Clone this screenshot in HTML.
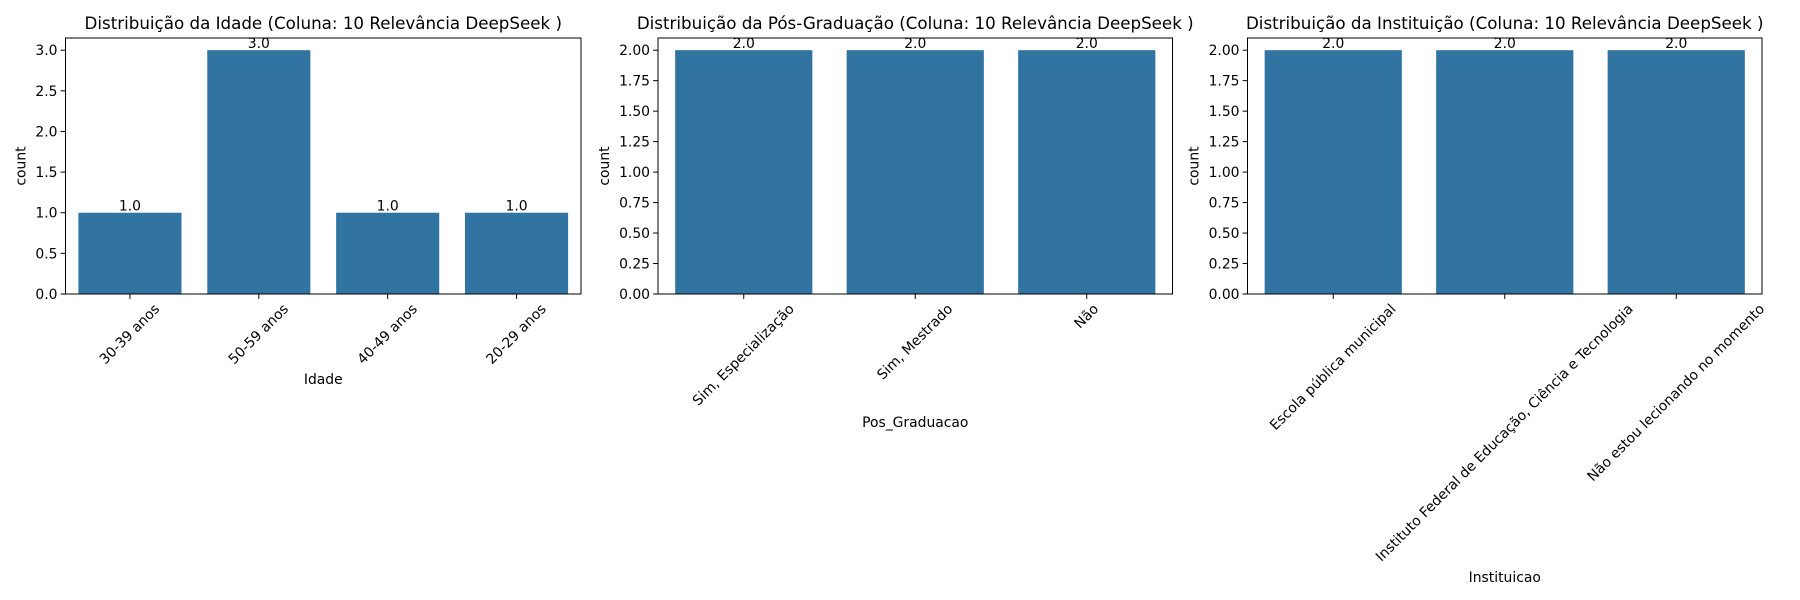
<!DOCTYPE html>
<html><head><meta charset="utf-8">
<style>
body{margin:0;background:#fff;}
svg{display:block;font-family:"DejaVu Sans","Liberation Sans",sans-serif;}
</style></head>
<body>
<svg id="fig" width="1800" height="600" viewBox="0 0 1800 600" xmlns="http://www.w3.org/2000/svg"></svg>
<script>
const idadeCategories = ["30-39 anos","50-59 anos","40-49 anos","20-29 anos"];
const idadeCounts = [1,3,1,1];
const idadeTicks = [0,0.5,1,1.5,2,2.5,3];
const posCategories = ["Sim, Especialização","Sim, Mestrado","Não"];
const posCounts = [2,2,2];
const posTicks = [0,0.25,0.5,0.75,1,1.25,1.5,1.75,2];
const instCategories = ["Escola pública municipal","Instituto Federal de Educação, Ciência e Tecnologia","Não estou lecionando no momento"];
const instCounts = [2,2,2];
const instTicks = [0,0.25,0.5,0.75,1,1.25,1.5,1.75,2];

const NS="http://www.w3.org/2000/svg";
const svg=document.getElementById('fig');
function mk(tag,attrs,parent){const e=document.createElementNS(NS,tag);for(const k in attrs)e.setAttribute(k,attrs[k]);(parent||svg).appendChild(e);return e;}

function panel(cfg){
  const g=mk('g',{});
  
  
  const L=cfg.left,R=cfg.right,T=38,B=294;
  const ymax=Math.max(...cfg.ticks)*1.05;
  const n=cfg.cats.length;
  const xs=i=>L+(i+0.5)*(R-L)/n;
  const ys=v=>B-v/ymax*(B-T);
  const bw=0.8*(R-L)/n;
  cfg.vals.forEach((v,i)=>{
    const r=mk('rect',{x:xs(i)-bw/2,y:ys(v),width:bw,height:B-ys(v),fill:'#3274a1'},g);
    
    
    const t=mk('text',{x:xs(i),y:ys(v)-2,'text-anchor':'middle','font-size':'13.9',fill:'#000'},g);
    t.textContent=v.toFixed(1);
    
    
  });
  mk('rect',{x:L,y:T,width:R-L,height:B-T,fill:'none',stroke:'#000','stroke-width':1},g);
  let maxW=0;
  cfg.ticks.forEach(tv=>{
    mk('line',{x1:L-4.9,x2:L,y1:ys(tv),y2:ys(tv),stroke:'#000'},g);
    const t=mk('text',{x:L-8,y:ys(tv)+5,'text-anchor':'end','font-size':'13.9'},g);
    t.textContent=cfg.fmt(tv);
    
    
    maxW=Math.max(maxW,t.getComputedTextLength());
  });
  const yl=mk('text',{transform:`translate(${L-8-maxW-10},${(T+B)/2}) rotate(-90)`,'text-anchor':'middle','font-size':'13.9'},g);
  yl.textContent='count';
  
  
  cfg.cats.forEach((c,i)=>{
    mk('line',{x1:xs(i),x2:xs(i),y1:B,y2:B+4.9,stroke:'#000'},g);
    const t=mk('text',{'text-anchor':'middle','font-size':'13.9','dominant-baseline':'central'},g);
    t.textContent=c;
    
    
    const len=t.getComputedTextLength();
    const h=14;
    const cy=B+8+(len+h)*0.7071/2;
    t.setAttribute('transform',`translate(${xs(i)},${cy}) rotate(-45)`);
  });
  const xl=mk('text',{x:(L+R)/2,y:cfg.xlabY,'text-anchor':'middle','font-size':'13.9'},g);
  xl.textContent=cfg.xlabel;
  
  
  const ti=mk('text',{x:(L+R)/2,y:29,'text-anchor':'middle','font-size':'16.7'},g);
  ti.textContent=cfg.title;
  
  
}
panel({name:'idade-chart',left:65.5,right:581,cats:idadeCategories,vals:idadeCounts,ticks:idadeTicks,fmt:v=>v.toFixed(1),xlabel:'Idade',xlabY:384,title:'Distribuição da Idade (Coluna: 10 Relevância DeepSeek )'});
panel({name:'pos-graduacao-chart',left:658,right:1172.5,cats:posCategories,vals:posCounts,ticks:posTicks,fmt:v=>v.toFixed(2),xlabel:'Pos_Graduacao',xlabY:427,title:'Distribuição da Pós-Graduação (Coluna: 10 Relevância DeepSeek )'});
panel({name:'instituicao-chart',left:1247.5,right:1762,cats:instCategories,vals:instCounts,ticks:instTicks,fmt:v=>v.toFixed(2),xlabel:'Instituicao',xlabY:582,title:'Distribuição da Instituição (Coluna: 10 Relevância DeepSeek )'});
</script>
</body></html>
